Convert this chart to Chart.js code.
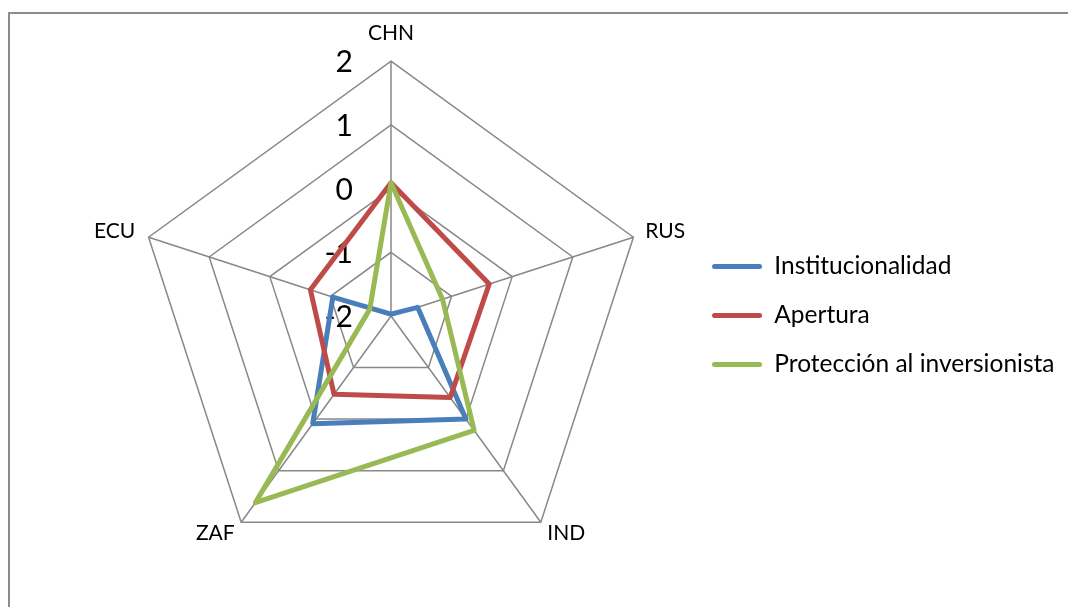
<!DOCTYPE html>
<html><head><meta charset="utf-8">
<script src="https://cdn.jsdelivr.net/npm/chart.js@4.4.0/dist/chart.umd.min.js"></script>
<style>
html,body{margin:0;padding:0;background:#fff;overflow:hidden;}
#wrap{position:relative;width:1068px;height:607px;overflow:hidden;}
#frame{position:absolute;left:8px;top:12px;width:1200px;height:800px;border-top:2px solid #8c8c8c;border-left:2px solid #8c8c8c;box-sizing:border-box;}
canvas{position:absolute;left:0;top:0;}
</style></head><body>
<div id="wrap"><div id="frame"></div><canvas id="c" width="1068" height="607"></canvas></div>
<script>
const CATEGORIES = ['CHN', 'RUS', 'IND', 'ZAF', 'ECU'];
const SERIES_NAMES = ['Institucionalidad', 'Apertura', 'Protección al inversionista'];
const INSTITUCIONALIDAD = [-1.97, -1.56, 0.0, 0.09, -1.04];
const APERTURA = [0.09, -0.38, -0.42, -0.48, -0.67];
const PROTECCION = [0.09, -1.15, 0.22, 1.62, -1.65];
const TICK_VALUES = [-2, -1, 0, 1, 2];
const TICK_LABELS = ['-2', '-1', '0', '1', '2'];

const COLORS = ['#4A7EBB', '#BE4B48', '#98B954'];
const LABEL_PAD = [26, 12.5, 11, 11, 14];

// Draws the value-axis labels (including the centre "-2") to the left of the CHN axis,
// positioned through the radial scale itself.
const tickLabelPlugin = {
  id: 'tickLabels',
  beforeDatasetsDraw(chart) {
    const s = chart.scales.r;
    const ctx = chart.ctx;
    ctx.save();
    ctx.font = '30px Lato';
    ctx.fillStyle = '#000';
    ctx.textAlign = 'right';
    ctx.textBaseline = 'middle';
    s.ticks.forEach(t => {
      const d = s.getDistanceFromCenterForValue(t.value);
      ctx.fillText(t.label, s.xCenter - 38, s.yCenter - d + 1.5);
    });
    ctx.restore();
  }
};

new Chart(document.getElementById('c'), {
  type: 'radar',
  data: {
    labels: CATEGORIES,
    datasets: [
      { label: SERIES_NAMES[0], data: INSTITUCIONALIDAD, borderColor: COLORS[0], backgroundColor: COLORS[0], order: 3 },
      { label: SERIES_NAMES[1], data: APERTURA, borderColor: COLORS[1], backgroundColor: COLORS[1], order: 2 },
      { label: SERIES_NAMES[2], data: PROTECCION, borderColor: COLORS[2], backgroundColor: COLORS[2], order: 1 }
    ].map(d => Object.assign(d, { fill: false, borderWidth: 5, pointRadius: 0, pointHoverRadius: 0, borderJoinStyle: 'round', tension: 0 }))
  },
  options: {
    responsive: false,
    animation: false,
    devicePixelRatio: 1,
    layout: { padding: { left: 93, top: 4, right: 3.5, bottom: 8 } },
    plugins: {
      tooltip: { enabled: false },
      legend: {
        position: 'right',
        maxWidth: 381,
        title: { display: true, text: '', font: { size: 1, lineHeight: 1 }, padding: { top: 27, bottom: 0 } },
        labels: {
          font: { family: 'Lato', size: 24.5 },
          color: '#000',
          padding: 24.5,
          boxWidth: 50,
          boxHeight: 5,
          useBorderRadius: true,
          borderRadius: 2.5,
          sort: (a, b) => a.datasetIndex - b.datasetIndex,
          generateLabels(chart) {
            const items = Chart.defaults.plugins.legend.labels.generateLabels(chart);
            items.forEach(it => { it.lineWidth = 0; it.fillStyle = it.strokeStyle; });
            return items;
          }
        }
      }
    },
    scales: {
      r: {
        min: -2,
        max: 2,
        ticks: { stepSize: 1, display: false, callback: v => TICK_LABELS[TICK_VALUES.indexOf(v)] },
        grid: { color: '#888888', lineWidth: 1.5 },
        angleLines: { color: '#888888', lineWidth: 1.5 },
        pointLabels: {
          color: '#000',
          font: { family: 'Lato', size: 21, lineHeight: 0.2 },
          padding: ctx => LABEL_PAD[ctx.index]
        }
      }
    }
  },
  plugins: [tickLabelPlugin]
});
</script>
</body></html>
